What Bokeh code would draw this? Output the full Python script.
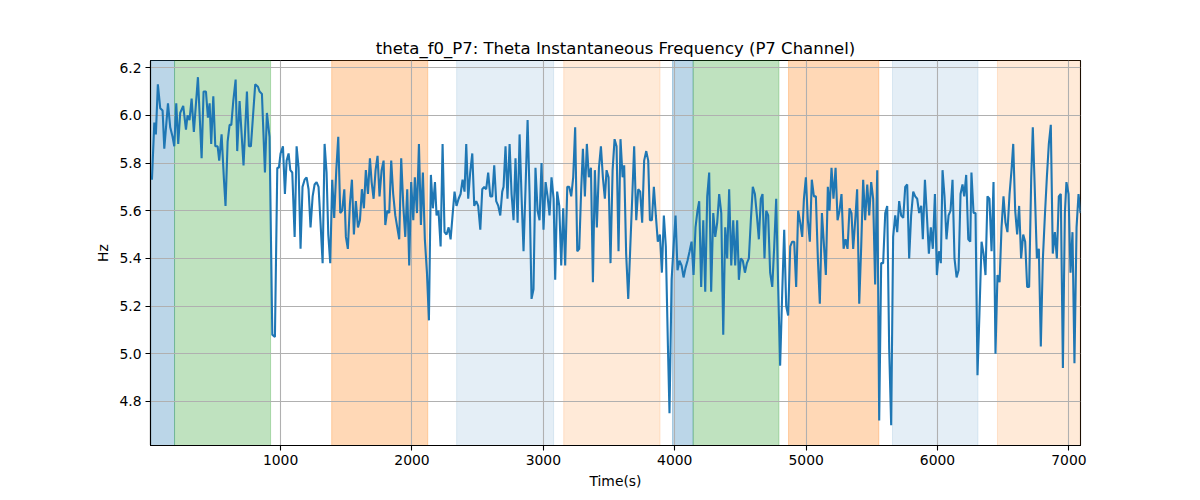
from bokeh.plotting import figure
from bokeh.models import Range1d, FixedTicker, BoxAnnotation, PrintfTickFormatter
from bokeh.embed import file_html
from bokeh.resources import INLINE

# ---- data ----
time_s = [
    21, 39, 51, 66, 84, 102, 115, 143, 160, 178, 191, 206, 221, 236, 259, 280, 292, 307, 323, 340,
    371, 399, 414, 432, 447, 460, 472, 488, 503, 521, 533, 551, 569, 581, 597, 612, 625, 640, 658, 670,
    688, 718, 744, 759, 774, 807, 828, 840, 858, 881, 896,
    916, 937, 957, 975, 987, 1000, 1018, 1033, 1046, 1061, 1074, 1089, 1107, 1122, 1137, 1152, 1167, 1183, 1198, 1213,
    1228, 1244, 1259, 1274, 1289, 1304, 1320, 1335, 1350, 1363, 1378, 1393, 1408, 1424, 1439, 1454, 1469, 1485, 1497, 1512,
    1528, 1543, 1558, 1573, 1589, 1604, 1619, 1634, 1649, 1665, 1680, 1693, 1708, 1723, 1738, 1753, 1769, 1784, 1797,
    1812, 1827, 1842, 1857, 1873, 1888, 1903, 1918, 1934, 1949, 1964, 1979, 1994, 2010, 2022, 2038, 2053, 2068, 2083, 2098,
    2114, 2129, 2144, 2159, 2175, 2187, 2202, 2218, 2233, 2248, 2263, 2279, 2294, 2309, 2324, 2339, 2355, 2370, 2385, 2400,
    2413, 2428, 2443, 2459, 2474, 2489, 2504, 2520, 2535, 2550, 2565, 2580, 2596, 2611, 2626, 2641, 2657, 2672, 2687,
    2697, 2712, 2727, 2743, 2758, 2773, 2788, 2804, 2819, 2834, 2849, 2864, 2880, 2895, 2910, 2925, 2940, 2956, 2971, 2986,
    3001, 3017, 3032, 3047, 3062, 3078, 3090, 3105, 3121, 3136, 3151, 3166, 3182, 3197, 3212, 3227, 3242, 3258, 3273, 3288,
    3301, 3316, 3331, 3346, 3362, 3377, 3392, 3407, 3423, 3438, 3453, 3468, 3481, 3496, 3511, 3527, 3542, 3557, 3572,
    3587, 3603, 3615, 3630, 3646, 3661, 3676, 3691, 3707, 3722, 3737, 3752, 3767, 3783, 3798, 3811, 3826, 3841, 3856, 3871,
    3887, 3902, 3917, 3932, 3948, 3960, 3976, 3991, 4006, 4021, 4036, 4052, 4067, 4082, 4097, 4113, 4128, 4143, 4158, 4173,
    4186, 4201, 4217, 4232, 4247, 4262, 4277, 4293, 4308, 4323, 4338, 4354, 4369, 4384, 4399, 4414, 4430, 4445, 4460,
    4475, 4488, 4503, 4518, 4534, 4549, 4564, 4579, 4594, 4610, 4625, 4640, 4655, 4668, 4683, 4696, 4711, 4726, 4742, 4757,
    4772, 4787, 4802, 4818, 4833, 4848, 4863, 4879, 4894, 4909, 4924, 4939, 4955, 4970, 4983, 4998, 5013, 5028, 5043, 5059,
    5074, 5089, 5104, 5120, 5135, 5150, 5165, 5178, 5193, 5208, 5224, 5239, 5254, 5269, 5285, 5300, 5315, 5330, 5345, 5358,
    5376, 5388, 5404, 5419, 5434, 5449, 5465, 5480, 5495, 5510, 5525, 5541, 5556, 5571, 5586, 5602, 5617, 5632, 5647, 5662,
    5678, 5693, 5708, 5723, 5739, 5754, 5769, 5784, 5799, 5815, 5830, 5845, 5860, 5876, 5888, 5904, 5919, 5934, 5949, 5964,
    5980, 5995, 6010, 6025, 6038, 6053, 6068, 6084, 6099, 6114, 6129, 6145, 6160, 6175, 6190, 6203, 6218, 6234, 6249,
    6258, 6274, 6289, 6304, 6319, 6335, 6350, 6365, 6380, 6395, 6411, 6426, 6441, 6456, 6472, 6487, 6502, 6517, 6532, 6548,
    6563, 6576, 6591, 6606, 6621, 6636, 6652, 6667, 6682, 6697, 6713, 6725, 6740, 6756, 6771, 6786, 6801, 6817, 6832, 6847,
    6862, 6877, 6893, 6908, 6923, 6938, 6954, 6969, 6981, 6997, 7012, 7027, 7042, 7058, 7073, 7088,
]

freq_hz = [
    5.73, 5.97, 5.92, 6.13, 6.03, 6.02, 5.86, 6.05, 5.95, 5.91, 5.87, 6.05, 5.88, 6.01, 6.04, 5.94, 6.00, 5.98, 6.07, 5.93,
    6.16, 5.82, 6.10, 6.10, 5.99, 6.05, 5.88, 6.08, 5.87, 5.87, 5.81, 5.92, 5.73, 5.62, 5.89, 5.96, 5.96, 6.06, 6.15, 5.85,
    6.06, 5.79, 6.10, 5.87, 5.87, 6.13, 6.12, 6.10, 6.09, 5.76, 6.01,
    5.91, 5.08, 5.07, 5.78, 5.78, 5.84, 5.87, 5.67, 5.81, 5.84, 5.77, 5.76, 5.49, 5.87, 5.78, 5.44, 5.70, 5.73, 5.74, 5.69,
    5.53, 5.66, 5.71, 5.72, 5.70, 5.55, 5.38, 5.88, 5.76, 5.50, 5.38, 5.73, 5.57, 5.77, 5.91, 5.59, 5.60, 5.69, 5.49, 5.44,
    5.63, 5.73, 5.50, 5.64, 5.53, 5.56, 5.69, 5.61, 5.77, 5.67, 5.82, 5.72, 5.65, 5.77, 5.83, 5.66, 5.77, 5.81, 5.54,
    5.60, 5.59, 5.81, 5.67, 5.58, 5.53, 5.48, 5.82, 5.62, 5.49, 5.69, 5.37, 5.72, 5.56, 5.74, 5.59, 5.88, 5.54, 5.76, 5.48,
    5.34, 5.14, 5.75, 5.61, 5.72, 5.58, 5.60, 5.45, 5.88, 5.51, 5.50, 5.53, 5.48, 5.58, 5.68, 5.62, 5.65, 5.67, 5.73, 5.68,
    5.88, 5.65, 5.76, 5.84, 5.62, 5.64, 5.62, 5.52, 5.69, 5.70, 5.69, 5.76, 5.66, 5.66, 5.79, 5.64, 5.62, 5.58, 5.68,
    5.70, 5.87, 5.65, 5.88, 5.67, 5.56, 5.82, 5.55, 5.92, 5.66, 5.43, 5.69, 5.98, 5.67, 5.23, 5.27, 5.78, 5.60, 5.56, 5.80,
    5.52, 5.72, 5.66, 5.58, 5.74, 5.65, 5.31, 5.68, 5.62, 5.37, 5.61, 5.37, 5.70, 5.70, 5.66, 5.74, 5.95, 5.43, 5.44, 5.69,
    5.86, 5.66, 5.88, 5.74, 5.78, 5.30, 5.77, 5.53, 5.78, 5.87, 5.74, 5.65, 5.77, 5.74, 5.38, 5.77, 5.90, 5.87, 5.43,
    5.90, 5.74, 5.79, 5.42, 5.23, 5.44, 5.65, 5.87, 5.56, 5.69, 5.68, 5.55, 5.81, 5.85, 5.81, 5.56, 5.56, 5.70, 5.58, 5.47,
    5.50, 5.34, 5.58, 5.45, 5.03, 4.75, 5.31, 5.45, 5.58, 5.35, 5.39, 5.37, 5.32, 5.36, 5.39, 5.43, 5.47, 5.33, 5.53, 5.60,
    5.64, 5.28, 5.56, 5.26, 5.66, 5.76, 5.26, 5.59, 5.49, 5.55, 5.67, 5.59, 5.08, 5.53, 5.40, 5.69, 5.37, 5.56, 5.37,
    5.56, 5.31, 5.40, 5.39, 5.34, 5.38, 5.40, 5.56, 5.70, 5.67, 5.58, 5.48, 5.65, 5.67, 5.40, 5.60, 5.58, 5.34, 5.28, 5.45,
    5.65, 5.28, 4.95, 5.26, 5.52, 5.20, 5.16, 5.45, 5.47, 5.47, 5.28, 5.60, 5.55, 5.49, 5.65, 5.74, 5.56, 5.47, 5.73, 5.66,
    5.66, 5.40, 5.21, 5.59, 5.46, 5.33, 5.70, 5.60, 5.78, 5.65, 5.78, 5.56, 5.60, 5.67, 5.44, 5.48, 5.44, 5.61, 5.59, 5.44,
    5.58, 5.69, 5.21, 5.45, 5.73, 5.56, 5.71, 5.58, 5.72, 5.65, 5.29, 5.77, 4.72, 5.38, 5.38, 5.59, 5.62, 5.02, 4.70, 5.49,
    5.58, 5.51, 5.64, 5.58, 5.57, 5.70, 5.71, 5.40, 5.58, 5.68, 5.66, 5.65, 5.59, 5.62, 5.48, 5.73, 5.58, 5.42, 5.53, 5.44,
    5.67, 5.33, 5.43, 5.38, 5.77, 5.66, 5.48, 5.58, 5.60, 5.73, 5.40, 5.32, 5.35, 5.67, 5.71, 5.66, 5.75, 5.48, 5.47,
    5.76, 5.59, 5.59, 4.91, 5.17, 5.47, 5.42, 5.33, 5.66, 5.65, 5.43, 5.72, 5.00, 5.33, 5.30, 5.53, 5.66, 5.55, 5.51, 5.67,
    5.77, 5.88, 5.60, 5.50, 5.62, 5.40, 5.50, 5.47, 5.28, 5.28, 5.74, 5.95, 5.69, 5.40, 5.44, 5.03, 5.39, 5.58, 5.74, 5.88,
    5.96, 5.42, 5.51, 5.40, 5.66, 5.67, 4.94, 5.59, 5.72, 5.67, 5.34, 5.51, 4.96, 5.53, 5.67, 5.59,
]

# shaded epochs (seconds)
span_start = [10, 193, 1389, 2340, 3155, 3983, 4140, 4866, 5657, 6456]
span_end = [193, 924, 2120, 3078, 3888, 4140, 4793, 5553, 6308, 7088]
span_kind = ["blue", "green", "orange", "lightblue", "lightorange",
             "blue", "green", "orange", "lightblue", "lightorange"]

x_ticks = [1000, 2000, 3000, 4000, 5000, 6000, 7000]
y_ticks = [4.8, 5.0, 5.2, 5.4, 5.6, 5.8, 6.0, 6.2]

title_text = "theta_f0_P7: Theta Instantaneous Frequency (P7 Channel)"
x_label = "Time(s)"
y_label = "Hz"

# ---- styles ----
span_style = {
    "blue": ("#1f77b4", 0.30),
    "green": ("#2ca02c", 0.30),
    "orange": ("#ff7f0e", 0.30),
    "lightblue": ("#1f77b4", 0.12),
    "lightorange": ("#ff7f0e", 0.16),
}
FONT = "DejaVu Sans"

p = figure(
    frame_width=930, frame_height=385,
    min_border_left=150, min_border_right=112, min_border_top=60, min_border_bottom=47,
    x_range=Range1d(10, 7088), y_range=Range1d(4.615, 6.23),
    output_backend="svg", toolbar_location=None, title=title_text,
)
p.background_fill_color = "white"
p.border_fill_color = "white"

for s, e, k in zip(span_start, span_end, span_kind):
    col, a = span_style[k]
    p.add_layout(BoxAnnotation(left=s, right=e, fill_color=col, fill_alpha=a,
                               line_color=col, line_alpha=a, line_width=1, level="image"))

p.line(time_s, freq_hz, line_color="#1f77b4", line_width=2.1)

# title
p.title.text_font = FONT
p.title.text_font_size = "16.5px"
p.title.text_font_style = "normal"
p.title.align = "center"
p.title.text_color = "black"
p.title.standoff = 6

# axes
for ax in (p.xaxis[0], p.yaxis[0]):
    ax.axis_line_color = "black"
    ax.axis_line_width = 1.1
    ax.major_tick_line_color = "black"
    ax.major_tick_line_width = 1.1
    ax.major_tick_out = 5
    ax.major_tick_in = 0
    ax.minor_tick_line_color = None
    ax.major_label_text_font = FONT
    ax.major_label_text_font_size = "13.9px"
    ax.major_label_text_color = "black"
    ax.major_label_standoff = 4
    ax.axis_label_text_font = FONT
    ax.axis_label_text_font_size = "13.9px"
    ax.axis_label_text_font_style = "normal"
    ax.axis_label_text_color = "black"
    ax.axis_label_standoff = 5

p.xaxis[0].ticker = FixedTicker(ticks=x_ticks)
p.yaxis[0].ticker = FixedTicker(ticks=y_ticks)
p.xaxis[0].formatter = PrintfTickFormatter(format="%d")
p.yaxis[0].formatter = PrintfTickFormatter(format="%.1f")
p.xaxis[0].axis_label = x_label
p.yaxis[0].axis_label = y_label

p.xgrid.ticker = FixedTicker(ticks=x_ticks)
p.ygrid.ticker = FixedTicker(ticks=y_ticks)
for g in (p.xgrid[0], p.ygrid[0]):
    g.grid_line_color = "#b0b0b0"
    g.grid_line_width = 1.1

p.outline_line_color = "black"
p.outline_line_width = 1.1
p.outline_line_alpha = 1.0

open("out.html", "w").write(file_html(p, INLINE))
